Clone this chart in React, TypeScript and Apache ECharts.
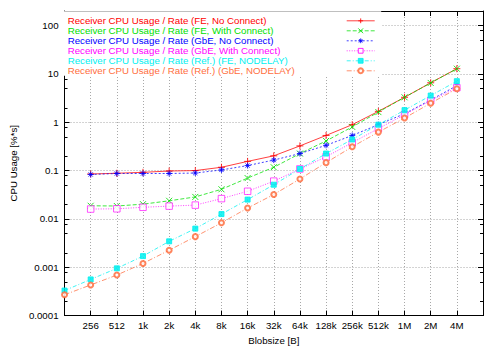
import React, { useEffect, useRef } from "react";
import * as echarts from "echarts";

const blobSizes = ["128", "256", "512", "1k", "2k", "4k", "8k", "16k", "32k", "64k", "128k", "256k", "512k", "1M", "2M", "4M", "8M"];

const seriesNames = [
  "Receiver CPU Usage / Rate (FE, No Connect)",
  "Receiver CPU Usage / Rate (FE, With Connect)",
  "Receiver CPU Usage / Rate (GbE, No Connect)",
  "Receiver CPU Usage / Rate (GbE, With Connect)",
  "Receiver CPU Usage / Rate (Ref.) (FE, NODELAY)",
  "Receiver CPU Usage / Rate (Ref.) (GbE, NODELAY)",
];

const feNoConnect = [null, 0.085, 0.088, 0.092, 0.098, 0.1, 0.117, 0.155, 0.202, 0.324, 0.533, 0.89, 1.68, 3.28, 6.55, 12.8];
const feWithConnect = [null, 0.0187, 0.0185, 0.0202, 0.0237, 0.0285, 0.041, 0.07, 0.117, 0.225, 0.41, 0.8, 1.62, 3.28, 6.5, 12.8];
const gbeNoConnect = [null, 0.083, 0.087, 0.087, 0.087, 0.089, 0.103, 0.127, 0.165, 0.225, 0.333, 0.533, 0.89, 1.5, 2.89, 5.7];
const gbeWithConnect = [null, 0.016, 0.0162, 0.0174, 0.0184, 0.0193, 0.0263, 0.0373, 0.0605, 0.108, 0.193, 0.378, 0.74, 1.43, 2.8, 5.18];
const refFeNodelay = [0.00033, 0.00056, 0.00095, 0.0017, 0.00344, 0.0063, 0.0126, 0.0251, 0.051, 0.108, 0.225, 0.44, 0.89, 1.78, 3.56, 7.06];
const refGbeNodelay = [0.00027, 0.00043, 0.00069, 0.0012, 0.00225, 0.0043, 0.0083, 0.0168, 0.032, 0.067, 0.146, 0.31, 0.625, 1.22, 2.48, 4.94];

const yMin = 0.0001;
const yMax = 200;
const minorTickValues = [
  0.0002, 0.0005, 0.0008,
  0.002, 0.005, 0.008,
  0.02, 0.05, 0.08,
  0.2, 0.5, 0.8,
  2, 5, 8,
  20, 50, 80,
  200,
];

const FONT = "'Liberation Sans', Arial, Helvetica, sans-serif";
const FS = 9.7;

const colors = ["#ff0000", "#00e000", "#0000ff", "#ff00ff", "#00f0f0", "#ff6e40"];

const SYM_PLUS = "path://M0,5H10M5,0V10";
const SYM_X = "path://M0,0L10,10M10,0L0,10";
const SYM_STAR = "path://M5,0V10M0,5H10M1.5,1.5L8.5,8.5M8.5,1.5L1.5,8.5";
const SYM_SQUARE = "path://M0,0H10V10H0Z";

function fmtLog(v: number): string {
  const l = Math.log10(v);
  const e = Math.round(l);
  if (Math.abs(l - e) > 1e-6) return "";
  if (e >= 0) return String(Math.pow(10, e));
  return "0." + "0".repeat(-e - 1) + "1";
}

export default function App() {
  const ref = useRef<HTMLDivElement>(null);
  useEffect(() => {
    document.body.style.margin = "0";
    const chart = echarts.init(ref.current!, null, { renderer: "svg" });
    const dataSets = [feNoConnect, feWithConnect, gbeNoConnect, gbeWithConnect, refFeNodelay, refGbeNodelay];
    const symbols = [SYM_PLUS, SYM_X, SYM_STAR, SYM_SQUARE, "rect", "emptyCircle"];
    const symbolSizes = [7, 6, 6, 6.5, 5, 5];
    const fills = [colors[0], colors[1], colors[2], "#ffffff", colors[4], colors[5]];
    const borderWidths = [1, 1, 1, 0.8, 1, 0.9];
    const dashes: any[] = ["solid", [4, 2], [2, 2], [1, 1.5], [4, 2, 1, 2], [5, 2, 1, 2]];
    const last = blobSizes.length - 1;

    const lineSeries = dataSets.map((d, i) => ({
      name: seriesNames[i],
      type: "line",
      data: d,
      xAxisIndex: 0,
      yAxisIndex: 0,
      symbol: symbols[i],
      symbolSize: symbolSizes[i],
      showSymbol: true,
      connectNulls: false,
      lineStyle: { color: colors[i], width: 1, type: dashes[i], opacity: 0.75 },
      itemStyle: { color: fills[i], borderColor: colors[i], borderWidth: borderWidths[i], opacity: 0.85 },
      emphasis: { disabled: true },
      z: 3 + i,
    }));

    const minorSeries = {
      type: "custom",
      name: "minor",
      xAxisIndex: 0,
      yAxisIndex: 0,
      silent: true,
      clip: false,
      z: 10,
      data: minorTickValues.map((v) => [0, v]),
      renderItem: (params: any, api: any) => {
        const v = api.value(1);
        const p0 = api.coord([0, v]);
        const p1 = api.coord([last, v]);
        const y = Math.round(p0[1]) + 0.5;
        return {
          type: "group",
          children: [
            { type: "line", shape: { x1: p0[0], y1: y, x2: p0[0] + 3, y2: y }, style: { stroke: "#000", lineWidth: 1 } },
            { type: "line", shape: { x1: p1[0], y1: y, x2: p1[0] - 3, y2: y }, style: { stroke: "#000", lineWidth: 1 } },
          ],
        };
      },
    };

    const axisLine = { show: true, lineStyle: { color: "#000", width: 1 } };
    const splitLine = { show: true, lineStyle: { color: "#a8a8a8", width: 1, type: [1, 2] } };

    chart.setOption({
      animation: false,
      textStyle: { fontFamily: FONT },
      grid: { left: 61, right: 17, top: 11, bottom: 29, containLabel: false },
      legend: {
        orient: "vertical",
        left: 62.7,
        top: 11.3,
        padding: [4.5, 6, 0, 5],
        backgroundColor: "#fff",
        align: "right",
        itemWidth: 28,
        itemHeight: 6,
        itemGap: 0,
        selectedMode: false,
        lineStyle: { width: 1 },
        itemStyle: { borderWidth: 1 },
        data: seriesNames.map((n, i) => ({ name: n, textStyle: { color: colors[i] } })),
        formatter: (n: string) => `{a|${n}}`,
        textStyle: {
          fontFamily: FONT,
          fontSize: FS,
          lineHeight: 9.8,
          rich: { a: { width: 274, align: "left", fontSize: FS, fontFamily: FONT, lineHeight: 9.8 } },
        },
        z: 20,
      },
      xAxis: [
        {
          type: "category",
          data: blobSizes,
          boundaryGap: false,
          axisLine,
          axisTick: { show: true, inside: true, length: 5, lineStyle: { color: "#000" } },
          axisLabel: {
            interval: 0,
            color: "#000",
            fontSize: FS,
            fontFamily: FONT,
            margin: 4.5,
            formatter: (v: string, i: number) => (i === 0 || i === last ? "" : v),
          },
          splitLine: { ...splitLine, interval: 0 },
          name: "Blobsize [B]",
          nameLocation: "middle",
          nameGap: 17.5,
          nameTextStyle: { color: "#000", fontSize: FS, fontFamily: FONT },
        },
        {
          type: "category",
          data: blobSizes,
          boundaryGap: false,
          position: "top",
          axisLine,
          axisTick: { show: true, inside: true, length: 5, interval: 0, lineStyle: { color: "#000" } },
          axisLabel: { show: false },
          splitLine: { show: false },
        },
      ],
      yAxis: [
        {
          type: "log",
          logBase: 10,
          min: yMin,
          max: yMax,
          axisLine,
          axisTick: { show: true, inside: true, length: 5, lineStyle: { color: "#000" } },
          axisLabel: { color: "#000", fontSize: FS, fontFamily: FONT, margin: 6, formatter: fmtLog, showMaxLabel: false },
          splitLine,
          name: "CPU Usage [%*s]",
          nameLocation: "middle",
          nameGap: 44,
          nameTextStyle: { color: "#000", fontSize: FS, fontFamily: FONT },
        },
        {
          type: "log",
          logBase: 10,
          min: yMin,
          max: yMax,
          position: "right",
          axisLine,
          axisTick: { show: true, inside: true, length: 5, lineStyle: { color: "#000" } },
          axisLabel: { show: false },
          splitLine: { show: false },
        },
      ],
      series: [...lineSeries, minorSeries],
    });
    return () => chart.dispose();
  }, []);
  return <div ref={ref} style={{ width: 500, height: 350 }} />;
}
